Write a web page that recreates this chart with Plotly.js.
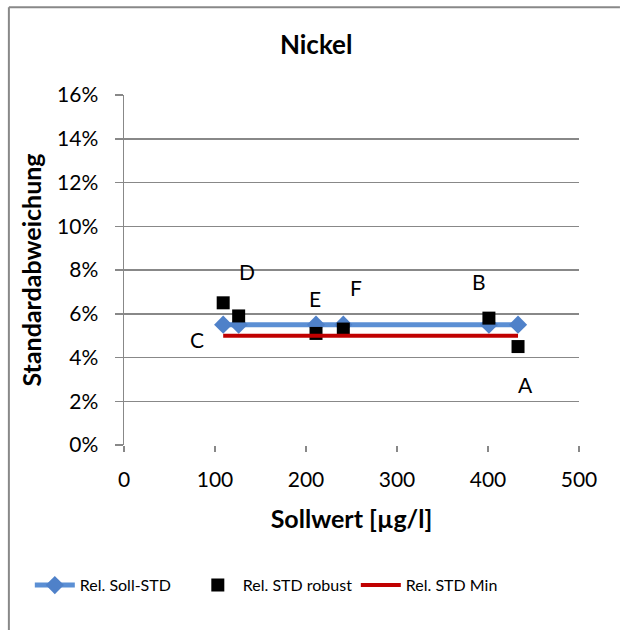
<!DOCTYPE html>
<html>
<head>
<meta charset="utf-8">
<script src="https://cdn.plot.ly/plotly-3.0.1.min.js"></script>
<style>
  html, body { margin: 0; padding: 0; background: #fff; overflow: hidden; }
  #chart { width: 620px; height: 630px; }
</style>
</head>
<body>
<div id="chart"></div>
<script>
// Nominal value (µg/l) per sample
const sollwert = [109, 126, 211, 241, 401, 433];
// Relative target standard deviation
const relSollStd = [0.055, 0.055, 0.055, 0.055, 0.055, 0.055];
// Robust relative standard deviation per sample
const relStdRobust = [0.065, 0.059, 0.051, 0.053, 0.058, 0.045];
// Minimum relative standard deviation
const relStdMin = [0.05, 0.05, 0.05, 0.05, 0.05, 0.05];
// Sample labels
const sampleLabels = ['C', 'D', 'E', 'F', 'B', 'A'];

const seriesNames = ['Rel. Soll-STD', 'Rel. STD robust', 'Rel. STD Min'];
const yTickVals = [0, 0.02, 0.04, 0.06, 0.08, 0.10, 0.12, 0.14, 0.16];
const xTickVals = [0, 100, 200, 300, 400, 500];

const font = 'Lato, "Noto Sans", sans-serif';

const traces = [
  {
    x: sollwert, y: relSollStd, name: seriesNames[0],
    type: 'scatter', mode: 'lines+markers',
    line: { color: '#5b8fd4', width: 5 },
    marker: { symbol: 'diamond', size: 14, color: '#4f81c9' }
  },
  {
    x: sollwert, y: relStdRobust, name: seriesNames[1],
    type: 'scatter', mode: 'markers',
    marker: { symbol: 'square', size: 13, color: '#000' }
  },
  {
    x: [sollwert[0], sollwert[sollwert.length - 1]],
    y: [relStdMin[0], relStdMin[relStdMin.length - 1]],
    name: seriesNames[2],
    type: 'scatter', mode: 'lines',
    line: { color: '#c00000', width: 4 }
  }
];

// label offsets (px) relative to each robust point
const labelShift = [[-26, 37], [8, -44], [-1, -35], [13, -42], [-10, -37], [7, 38]];
const annotations = sampleLabels.map((t, i) => ({
  x: sollwert[i], y: relStdRobust[i], text: t,
  showarrow: true, arrowcolor: 'rgba(0,0,0,0)',
  ax: labelShift[i][0], ay: labelShift[i][1],
  font: { family: font, size: 21, color: '#000' }
}));

const layout = {
  width: 620, height: 630,
  margin: { l: 124, r: 41, t: 95, b: 185 },
  paper_bgcolor: '#fff', plot_bgcolor: '#fff',
  font: { family: font, size: 21, color: '#000' },
  title: {
    text: '<b>Nickel</b>', x: 0.51, xref: 'container', xanchor: 'center',
    y: 0.928, yref: 'container', yanchor: 'middle',
    font: { family: font, size: 26, color: '#000' }
  },
  xaxis: {
    range: [0, 500], tickvals: xTickVals, ticks: 'outside', ticklen: 6,
    tickcolor: '#888', tickwidth: 1.5, ticklabelstandoff: 10,
    showgrid: false, zeroline: false, showline: false,
    tickfont: { family: font, size: 21 },
    title: { text: '<b>Sollwert [µg/l]</b>', standoff: 20, font: { family: font, size: 25 } }
  },
  yaxis: {
    range: [0, 0.16], tickvals: yTickVals, tickformat: '.0%',
    ticks: 'outside', ticklen: 8, tickcolor: '#888', tickwidth: 1.5,
    ticklabelstandoff: 12,
    showgrid: true, gridcolor: '#888', gridwidth: 1.5,
    zeroline: false, showline: true, linecolor: '#888', linewidth: 1.5,
    tickfont: { family: font, size: 21 },
    title: { text: '<b>Standardabweichung</b>', standoff: 8, font: { family: font, size: 25 } }
  },
  showlegend: true,
  legend: {
    orientation: 'h', x: -0.207, xanchor: 'left', y: -0.352, yanchor: 'top',
    font: { family: font, size: 16 }, itemwidth: 40, tracegroupgap: 0,
    entrywidth: 108, entrywidthmode: 'pixels'
  },
  annotations: annotations,
  shapes: [
    { type: 'line', xref: 'paper', yref: 'paper', x0: -0.253, x1: 1.09, y0: 1.251, y1: 1.251,
      line: { color: '#888', width: 2 } },
    { type: 'line', xref: 'paper', yref: 'paper', x0: -0.253, x1: -0.253, y0: 1.251, y1: -0.6,
      line: { color: '#888', width: 2 } }
  ]
};

Plotly.newPlot('chart', traces, layout, { displayModeBar: false, staticPlot: true });
</script>
</body>
</html>
